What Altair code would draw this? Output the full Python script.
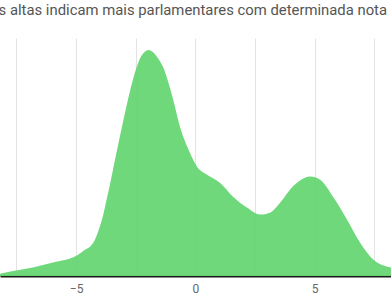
import altair as alt
import pandas as pd

# Nota (eixo x) e densidade (eixo y)
notas = [-8.19, -7.52, -6.81, -5.97, -4.97, -4.71, -4.28, -4.0, -3.86, -3.72,
         -3.58, -3.37, -3.04, -2.62, -2.32, -2.18, -1.97, -1.76, -1.62, -1.36,
         -0.93, -0.65, -0.23, 0.07, 0.49, 1.03, 1.58, 2.16, 2.71, 3.13,
         3.55, 4.09, 4.38, 4.81, 5.23, 5.77, 6.36, 6.90, 7.45, 8.20]
densidade = [0.0012, 0.0029, 0.0045, 0.0071, 0.0108, 0.0131, 0.0175, 0.0262, 0.0324, 0.0403,
             0.0482, 0.0613, 0.0808, 0.1034, 0.1147, 0.1174, 0.1192, 0.1179, 0.1158, 0.1103,
             0.0929, 0.0788, 0.0650, 0.0576, 0.0534, 0.0492, 0.0418, 0.0361, 0.0324, 0.0334,
             0.0386, 0.0473, 0.0504, 0.0525, 0.0508, 0.0418, 0.0297, 0.0176, 0.0087, 0.0045]
grid_vals = [-7.5, -5, -2.5, 0, 2.5, 5, 7.5]

titulo = "Áreas mais altas indicam mais parlamentares com determinada nota"

df = pd.DataFrame({"nota": notas, "densidade": densidade})

chart = alt.Chart(df).mark_area(
    color="#62d570", opacity=0.92, interpolate="monotone", clip=True
).encode(
    x=alt.X("nota:Q", scale=alt.Scale(domain=[-8.19, 8.2], nice=False, zero=False),
            axis=alt.Axis(values=grid_vals, title=None, ticks=False,
                          labelExpr="datum.value % 5 == 0 ? datum.label : ''",
                          labelFont="Roboto", labelFontSize=12, labelColor="#666666",
                          labelPadding=7, domainColor="#1a1a1a", domainWidth=2,
                          grid=True, gridColor="#e4e4e4", gridWidth=1)),
    y=alt.Y("densidade:Q", scale=alt.Scale(domain=[0, 0.1255], nice=False),
            axis=None),
).properties(
    width=391, height=238,
    autosize=alt.AutoSizeParams(type="none"),
    padding={"left": 0, "top": 38, "right": 0, "bottom": 24},
    title=alt.TitleParams(titulo, anchor="start", frame="group", dx=-68, dy=12,
                          font="Roboto", fontSize=14.85, fontWeight="normal",
                          color="#555555", offset=20, baseline="alphabetic"),
).configure_view(stroke=None)

chart.save("out.html", embed_options={"renderer": "svg", "actions": False})
